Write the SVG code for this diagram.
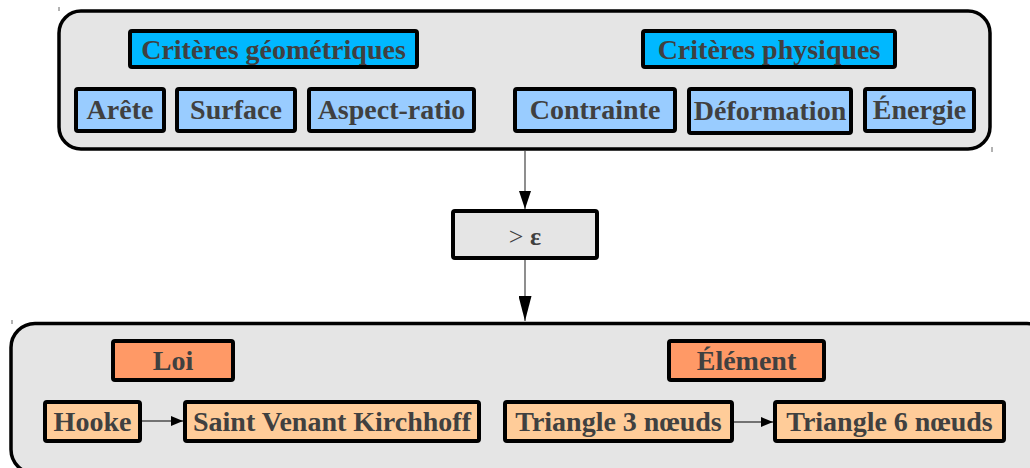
<svg xmlns="http://www.w3.org/2000/svg" width="1030" height="468" viewBox="0 0 1030 468">
<style>
.cont{fill:#e5e5e5;stroke:#000;stroke-width:3.5}
.box{stroke:#000;stroke-width:4}
.cat{fill:#00b8ff}
.sub{fill:#99ccff}
.law{fill:#ff9966}
.lsub{fill:#ffcc99}
.gray{fill:#e5e5e5}
text{font-family:"Liberation Serif","Times New Roman",serif;font-weight:bold;font-size:28px;fill:#404040;text-anchor:middle}
.eps{font-size:26px}
.conn{stroke:#444;stroke-width:1.2;fill:none}
.small{stroke:#000;stroke-width:1.2;fill:none}
.tick{stroke:#666;stroke-width:1}
</style>
<defs>
<marker id="ah1" markerUnits="userSpaceOnUse" markerWidth="18" markerHeight="12" refX="18" refY="6" orient="auto"><path d="M0,0 L18,6 L0,12 z" fill="#000"/></marker>
<marker id="ah2" markerUnits="userSpaceOnUse" markerWidth="25" markerHeight="13" refX="25" refY="6.5" orient="auto"><path d="M0,0 L25,6.5 L0,13 z" fill="#000"/></marker>
<marker id="ahs" markerUnits="userSpaceOnUse" markerWidth="12" markerHeight="10" refX="12" refY="5" orient="auto"><path d="M0,0 L12,5 L0,10 z" fill="#000"/></marker>
</defs>
<line class="tick" x1="59" y1="7" x2="59" y2="11"/>
<line class="tick" x1="992" y1="147" x2="992" y2="152"/>
<line class="tick" x1="12" y1="320" x2="12" y2="324"/>
<g id="top-container">
<rect class="cont" x="59" y="11" width="931" height="138" rx="22"/>
</g>
<g id="bottom-container">
<rect class="cont" x="11" y="323.5" width="1040" height="150" rx="24"/>
</g>
<g id="connectors">
<line class="conn" x1="525" y1="151" x2="525" y2="209" marker-end="url(#ah1)"/>
<line class="conn" x1="525" y1="260" x2="525" y2="321" marker-end="url(#ah2)"/>
<line class="small" x1="142" y1="421" x2="183" y2="421" marker-end="url(#ahs)"/>
<line class="small" x1="734" y1="422" x2="773" y2="422" marker-end="url(#ahs)"/>
</g>
<g id="criteres-geometriques"><rect class="box cat" x="130" y="31" width="287" height="36" rx="2"/><text x="273.5" y="59">Critères géométriques</text></g>
<g id="criteres-physiques"><rect class="box cat" x="643" y="31" width="252" height="36" rx="2"/><text x="769" y="59">Critères physiques</text></g>
<g id="arete"><rect class="box sub" x="76" y="89" width="88" height="42" rx="2"/><text x="120" y="119">Arête</text></g>
<g id="surface"><rect class="box sub" x="177" y="89" width="118" height="42" rx="2"/><text x="236" y="119">Surface</text></g>
<g id="aspect-ratio"><rect class="box sub" x="309" y="89" width="165" height="42" rx="2"/><text x="391.5" y="119">Aspect-ratio</text></g>
<g id="contrainte"><rect class="box sub" x="515" y="89" width="160" height="42" rx="2"/><text x="595" y="119">Contrainte</text></g>
<g id="deformation"><rect class="box sub" x="689" y="89" width="162" height="44" rx="2"/><text x="770" y="120">Déformation</text></g>
<g id="energie"><rect class="box sub" x="865" y="89" width="109" height="42" rx="2"/><text x="919.5" y="119">Énergie</text></g>
<g id="epsilon"><rect class="box gray" x="453" y="211" width="144" height="47" rx="2"/><text class="eps" x="525" y="245"><tspan font-weight="normal">&gt;</tspan> ε</text></g>
<g id="loi"><rect class="box law" x="113" y="341" width="120" height="39" rx="2"/><text x="173" y="370">Loi</text></g>
<g id="element"><rect class="box law" x="669" y="341" width="155" height="39" rx="2"/><text x="746.5" y="370">Élément</text></g>
<g id="hooke"><rect class="box lsub" x="45" y="402" width="95" height="39" rx="2"/><text x="92.5" y="431">Hooke</text></g>
<g id="svk"><rect class="box lsub" x="185" y="402" width="294" height="39" rx="2"/><text x="332" y="431">Saint Venant Kirchhoff</text></g>
<g id="tri3"><rect class="box lsub" x="505" y="402" width="227" height="39" rx="2"/><text x="618.5" y="431">Triangle 3 nœuds</text></g>
<g id="tri6"><rect class="box lsub" x="775" y="402" width="229" height="39" rx="2"/><text x="889.5" y="431">Triangle 6 nœuds</text></g>
</svg>
